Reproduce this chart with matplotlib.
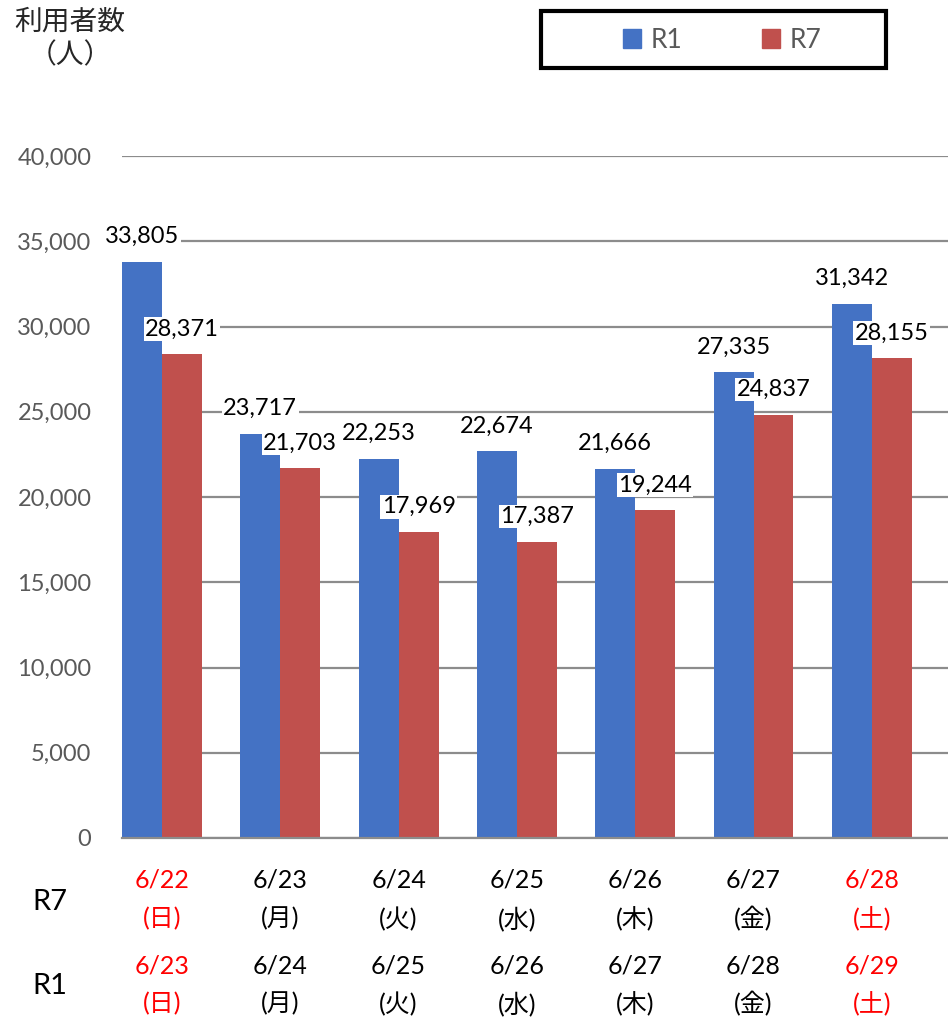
import numpy as np
import matplotlib
matplotlib.use("Agg")
import matplotlib.pyplot as plt
from matplotlib.patches import Rectangle, Patch
from matplotlib.transforms import blended_transform_factory

plt.rcParams['font.family'] = ['Lato', 'Noto Sans CJK JP', 'DejaVu Sans']

# データ
r7_dates = ["6/22", "6/23", "6/24", "6/25", "6/26", "6/27", "6/28"]
r1_dates = ["6/23", "6/24", "6/25", "6/26", "6/27", "6/28", "6/29"]
weekdays = ["日", "月", "火", "水", "木", "金", "土"]
r1_values = [33805, 23717, 22253, 22674, 21666, 27335, 31342]
r7_values = [28371, 21703, 17969, 17387, 19244, 24837, 28155]
holiday = [True, False, False, False, False, False, True]

blue = "#4472C4"
red = "#C0504D"
grey = "#595959"

fig = plt.figure(figsize=(9.48, 10.24), dpi=100)
ax = fig.add_axes([122 / 948, 1 - 838 / 1024, 1 - 122 / 948, (838 - 156) / 1024])

x = np.arange(len(r1_values))
w = 0.338
b1 = ax.bar(x - w / 2, r1_values, w, color=blue, zorder=2)
b2 = ax.bar(x + w / 2, r7_values, w, color=red, zorder=2)

ax.set_xlim(-0.338, 6.644)
ax.set_ylim(0, 40000)
ax.set_yticks(np.arange(0, 40001, 5000))
ax.set_yticklabels([f"{v:,}" for v in range(0, 40001, 5000)], fontsize=17, color=grey)
ax.tick_params(axis='y', length=0, pad=22)
ax.set_xticks([])
ax.grid(axis='y', color="#8c8c8c", linewidth=1.6, zorder=0)
for s in ["top", "right", "left"]:
    ax.spines[s].set_visible(False)
ax.spines["bottom"].set_color("#8c8c8c")
ax.spines["bottom"].set_linewidth(1.6)

# 値ラベル
for bars, vals in [(b1, r1_values), (b2, r7_values)]:
    for rect, v in zip(bars, vals):
        ax.annotate(f"{v:,}", (rect.get_x() + rect.get_width() / 2, v),
                    xytext=(0, 18), textcoords="offset points",
                    ha="center", va="center", fontsize=17, color="black", zorder=5,
                    bbox=dict(facecolor="white", edgecolor="none", pad=1.0))

# 日付ラベル
tr = blended_transform_factory(ax.transData, fig.transFigure)
for i in range(len(x)):
    c = "red" if holiday[i] else "black"
    ax.text(i, 1 - 880 / 1024, r7_dates[i], transform=tr, ha="center", va="center", fontsize=18, color=c)
    ax.text(i, 1 - 919 / 1024, f"({weekdays[i]})", transform=tr, ha="center", va="center", fontsize=18, color=c)
    ax.text(i, 1 - 966 / 1024, r1_dates[i], transform=tr, ha="center", va="center", fontsize=18, color=c)
    ax.text(i, 1 - 1004 / 1024, f"({weekdays[i]})", transform=tr, ha="center", va="center", fontsize=18, color=c)

fig.text(50 / 948, 1 - 902 / 1024, "R7", ha="center", va="center", fontsize=21, color="black")
fig.text(50 / 948, 1 - 986 / 1024, "R1", ha="center", va="center", fontsize=21, color="black")

# 軸タイトル
fig.text(70 / 948, 1 - 22 / 1024, "利用者数", ha="center", va="center", fontsize=20, color="#262626")
fig.text(70 / 948, 1 - 55 / 1024, "（人）", ha="center", va="center", fontsize=20, color="#262626")

# 凡例
fig.patches.append(Rectangle((541 / 948, 1 - 68 / 1024), 345 / 948, 57 / 1024,
                             transform=fig.transFigure, facecolor="white",
                             edgecolor="black", linewidth=3))
handles = [Patch(color=blue, label="R1"), Patch(color=red, label="R7")]
leg = fig.legend(handles=handles, loc="center", bbox_to_anchor=(722 / 948, 1 - 40 / 1024),
                 ncol=2, frameon=False, fontsize=19, handlelength=0.7, handleheight=0.7,
                 handletextpad=0.35, columnspacing=3.0)
for t in leg.get_texts():
    t.set_color(grey)

fig.savefig("out.png", dpi=100)
